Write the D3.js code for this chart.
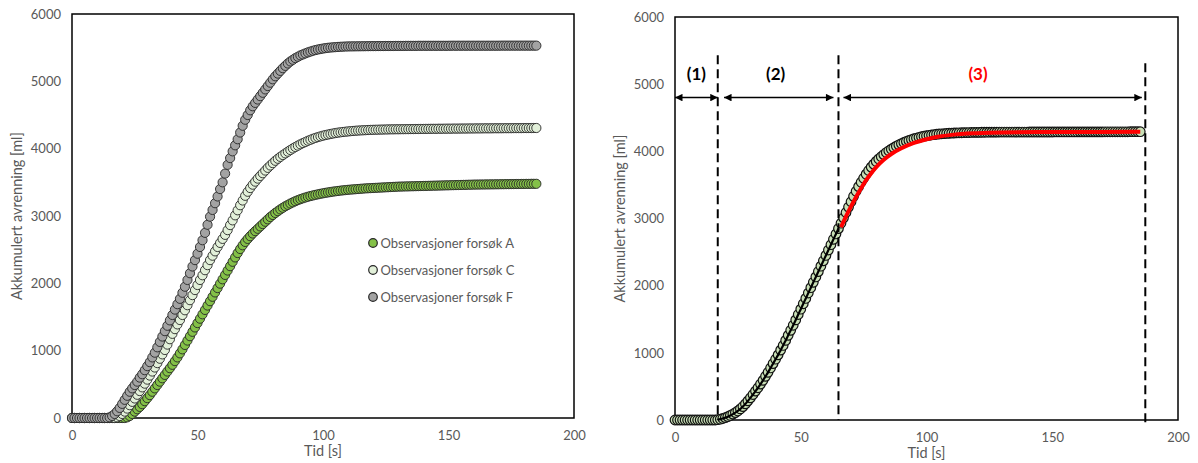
<!DOCTYPE html>
<html><head><meta charset="utf-8">
<script src="https://cdn.jsdelivr.net/npm/d3@7"></script>
<style>
body{margin:0;background:#fff}
svg{display:block}
text{font-family:Lato,"Open Sans",sans-serif}
</style>
</head><body>
<svg id="chart" width="1198" height="463"></svg>
<script>
// ---------- DATA ----------
const time = [
0,1,2,3,4,5,6,7,8,9,10,11,12,13,14,15,16,17,18,19,20,21,22,23,24,25,26,27,28,29,
30,31,32,33,34,35,36,37,38,39,40,41,42,43,44,45,46,47,48,49,50,51,52,53,54,55,56,57,58,59,
60,61,62,63,64,65,66,67,68,69,70,71,72,73,74,75,76,77,78,79,80,81,82,83,84,85,86,87,88,89,
90,91,92,93,94,95,96,97,98,99,100,101,102,103,104,105,106,107,108,109,110,111,112,113,114,115,116,117,118,119,
120,121,122,123,124,125,126,127,128,129,130,131,132,133,134,135,136,137,138,139,140,141,142,143,144,145,146,147,148,149,
150,151,152,153,154,155,156,157,158,159,160,161,162,163,164,165,166,167,168,169,170,171,172,173,174,175,176,177,178,179,
180,181,182,183,184,185];

const seriesA = [
0,0,0,0,0,0,0,0,0,0,0,0,0,0,0,0,0,0,0,0,0,0,
10,30,60,95,130,165,205,250,295,
340,390,440,490,540,590,640,690,740,790,
845,900,960,1020,1085,1150,1215,1280,1345,1410,
1475,1540,1605,1670,1735,1800,1865,1930,1995,2060,
2125,2190,2255,2320,2385,2450,2510,2565,2615,2660,
2700,2740,2775,2810,2845,2880,2915,2950,2985,3015,
3045,3072,3098,3122,3145,3165,3185,3203,3220,3236,
3250,3263,3275,3286,3296,3305,3314,3322,3330,3337,
3344,3350,3356,3362,3367,3372,3377,3381,3385,3389,
3392,3395,3398,3401,3404,3407,3410,3412,3414,3416,
3418,3420,3422,3424,3426,3428,3430,3432,3434,3436,
3437,3438,3439,3440,3441,3442,3443,3444,3445,3446,
3447,3448,3449,3450,3451,3452,3453,3454,3455,3456,
3457,3458,3459,3460,3461,3462,3463,3464,3465,3466,
3467,3467,3468,3468,3469,3469,3470,3470,3471,3471,
3472,3472,3473,3473,3474,3474,3475,3475,3476,3476,
3477,3477,3478,3478,3478];

const seriesC = [
0,0,0,0,0,0,0,0,0,0,0,0,0,0,0,0,0,0,
10,30,60,
95,140,190,240,290,345,400,455,510,570,
630,690,750,815,880,945,1010,1090,1170,1250,
1320,1390,1455,1530,1600,1675,1750,1825,1900,1975,
2050,2120,2195,2270,2345,2410,2475,2540,2600,2660,
2720,2790,2865,2935,3010,3085,3160,3230,3300,3360,
3415,3465,3510,3555,3595,3635,3675,3715,3750,3785,
3820,3850,3878,3905,3930,3955,3980,4003,4025,4045,
4065,4083,4100,4117,4132,4147,4160,4172,4183,4193,
4202,4210,4218,4225,4232,4238,4243,4248,4252,4256,
4260,4263,4266,4269,4271,4273,4275,4277,4279,4280,
4281,4282,4283,4284,4285,4286,4287,4287,4288,4288,
4289,4289,4290,4290,4291,4291,4292,4292,4293,4293,
4294,4294,4295,4295,4295,4296,4296,4296,4297,4297,
4297,4298,4298,4298,4299,4299,4299,4300,4300,4300,
4301,4301,4301,4302,4302,4302,4302,4303,4303,4303,
4303,4304,4304,4304,4304,4305,4305,4305,4305,4306,
4306,4306,4306,4307,4307];

const seriesF = [
0,0,0,0,0,0,0,0,0,0,0,0,0,0,0,
10,30,60,100,150,210,
270,330,390,440,490,540,600,650,710,770,
830,900,970,1050,1130,1210,1290,1370,1450,1530,
1610,1690,1770,1860,1950,2050,2150,2250,2345,2440,
2540,2640,2750,2870,2990,3090,3190,3290,3400,3500,
3630,3760,3860,3960,4050,4140,4240,4340,4430,4500,
4570,4630,4680,4730,4780,4830,4880,4930,4980,5030,
5075,5115,5155,5195,5230,5265,5295,5320,5345,5365,
5385,5400,5415,5430,5442,5454,5464,5473,5480,5487,
5493,5498,5502,5505,5508,5511,5513,5515,5517,5518,
5519,5519,5520,5520,5521,5521,5522,5522,5523,5523,
5523,5524,5524,5524,5525,5525,5525,5525,5526,5526,
5526,5526,5527,5527,5527,5527,5527,5528,5528,5528,
5528,5528,5528,5528,5528,5528,5528,5528,5528,5528,
5529,5529,5529,5529,5529,5529,5529,5529,5529,5529,
5529,5529,5529,5529,5529,5529,5529,5529,5529,5529,
5530,5530,5530,5530,5530,5530,5530,5530,5530,5530,
5530,5530,5530,5530,5530];

// right panel observations
const seriesR = [
0,0,0,0,0,0,0,0,0,0,0,0,0,0,0,0,0,
5,12,22,35,
50,68,88,110,135,165,200,240,285,330,
380,430,480,535,590,650,710,775,840,905,
970,1040,1110,1185,1260,1335,1410,1490,1570,1650,
1730,1810,1890,1970,2050,2130,2210,2290,2370,2450,
2530,2610,2690,2770,2850,2930,3010,3090,3170,3250,
3330,3405,3475,3540,3600,3660,3715,3765,3810,3850,
3887,3920,3952,3982,4008,4032,4055,4077,4097,4115,
4132,4148,4162,4175,4187,4198,4208,4217,4225,4232,
4238,4244,4249,4254,4258,4261,4264,4267,4269,4271,
4273,4275,4276,4277,4278,4279,4280,4281,4282,4283,
4283,4284,4284,4285,4285,4286,4286,4286,4287,4287,
4287,4287,4287,4287,4287,4287,4287,4287,4287,4287,
4288,4288,4288,4288,4288,4288,4288,4288,4288,4288,
4289,4289,4289,4289,4289,4289,4289,4289,4289,4289,
4290,4290,4290,4290,4290,4290,4290,4290,4290,4290,
4291,4291,4291,4291,4291,4291,4291,4291,4291,4291,
4292,4292,4292,4292,4292];

// fitted curve for phase (3)
const fitTime  = [66,68,70,72,74,76,78,80,83,86,90,95,100,105,110,120,130,150,185];
const fitValue = [2870,3030,3180,3320,3450,3570,3675,3765,3875,3960,4045,4125,4180,4220,4245,4270,4282,4288,4290];

// phase annotations
const phaseBounds   = [17, 65, 187];
const dashTop       = [5430, 5430, 5310];
const dashBottom    = [0, 0, -100];
const arrowFrom     = [0, 19.5, 67];
const arrowTo       = [17, 63, 185.6];
const arrowLevel    = 4800;
const phaseLabels   = ["(1)", "(2)", "(3)"];
const phaseLabelT   = [8.5, 40, 120.5];
const phaseLabelV   = 5150;
const phaseColors   = ["#000000", "#000000", "#ff0000"];
const phase2Range   = [17, 65];

const legendLabels = ["Observasjoner forsøk A", "Observasjoner forsøk C", "Observasjoner forsøk F"];
const xTicks = [0, 50, 100, 150, 200];
const yTicks = [0, 1000, 2000, 3000, 4000, 5000, 6000];
const xTitle = "Tid [s]";
const yTitle = "Akkumulert avrenning [ml]";

// ---------- DRAW ----------
const svg = d3.select("#chart");
const grey = "#595959";
const fillA = "#84c148", fillC = "#e2f0d9", fillF = "#a3a3a3", fillR = "#c9e0b6";
const strokeM = "#262626";

const defs = svg.append("defs");
defs.append("marker").attr("id","ah").attr("viewBox","0 0 10 10")
  .attr("refX",10).attr("refY",5).attr("markerUnits","userSpaceOnUse")
  .attr("markerWidth",9).attr("markerHeight",7.5).attr("orient","auto-start-reverse")
  .append("path").attr("d","M0,0L10,5L0,10Z").attr("fill","#000");

function panel(box, titleX) {
  const g = svg.append("g");
  const x = d3.scaleLinear().domain([0,200]).range([box.x0, box.x1]);
  const y = d3.scaleLinear().domain([0,6000]).range([box.y1, box.y0]);
  const xa = g.append("g").attr("transform",`translate(0,${box.y1})`)
    .call(d3.axisBottom(x).tickValues(xTicks).tickSize(0).tickPadding(13).tickFormat(d3.format("d")));
  const ya = g.append("g").attr("transform",`translate(${box.x0},0)`)
    .call(d3.axisLeft(y).tickValues(yTicks).tickSize(0).tickPadding(11).tickFormat(d3.format("d")));
  [xa, ya].forEach(a => {
    a.select(".domain").remove();
    a.selectAll("text").attr("fill",grey).style("font-size","13px").style("font-family","Lato");
  });
  g.append("text").attr("x",(box.x0+box.x1)/2).attr("y",box.y1+38)
    .attr("text-anchor","middle").attr("fill",grey).style("font-size","14.5px").text(xTitle);
  g.append("text").attr("transform",`translate(${titleX},${(box.y0+box.y1)/2}) rotate(-90)`)
    .attr("text-anchor","middle").attr("fill",grey).style("font-size","14.5px").text(yTitle);
  return {g, x, y};
}

function border(p, box) {
  p.g.append("rect").attr("x",box.x0).attr("y",box.y0)
    .attr("width",box.x1-box.x0).attr("height",box.y1-box.y0)
    .attr("fill","none").attr("stroke","#000").attr("stroke-width",1.5);
}

function dots(p, vals, fill, r, sw, stroke) {
  p.g.append("g").selectAll("circle").data(time.map((t,i)=>[t, vals[i]])).join("circle")
    .attr("cx",d=>p.x(d[0])).attr("cy",d=>p.y(d[1])).attr("r",r)
    .attr("fill",fill).attr("stroke",stroke).attr("stroke-width",sw);
}

// left panel
const boxL = {x0:72, x1:574, y0:14, y1:418};
const L = panel(boxL, 22);
border(L, boxL);
dots(L, seriesA, fillA, 4.6, 0.9, strokeM);
dots(L, seriesC, fillC, 4.6, 0.9, strokeM);
dots(L, seriesF, fillF, 4.6, 0.9, strokeM);

const legFills = [fillA, fillC, fillF];
const legY = d3.scalePoint().domain(legendLabels).range([243, 297]);
const leg = L.g.append("g");
legendLabels.forEach((lab, i) => {
  leg.append("circle").attr("cx",373).attr("cy",legY(lab)).attr("r",4.3)
    .attr("fill",legFills[i]).attr("stroke",strokeM).attr("stroke-width",1.2);
  leg.append("text").attr("x",380.5).attr("y",legY(lab)).attr("dy","0.35em")
    .attr("fill",grey).style("font-size","13px").text(lab);
});

// right panel
const boxR = {x0:675, x1:1178, y0:17, y1:420};
const R = panel(boxR, 625);
border(R, boxR);
dots(R, seriesR, fillR, 4.8, 1.2, "#111");

// black line over phase 2
const p2 = time.map((t,i)=>[t, seriesR[i]]).filter(d => d[0] >= phase2Range[0] && d[0] <= phase2Range[1]);
R.g.append("path").datum(p2)
  .attr("d", d3.line().x(d=>R.x(d[0])).y(d=>R.y(d[1])).curve(d3.curveMonotoneX))
  .attr("fill","none").attr("stroke","#000").attr("stroke-width",2.2);

// red fitted line phase 3
R.g.append("path").datum(fitTime.map((t,i)=>[t, fitValue[i]]))
  .attr("d", d3.line().x(d=>R.x(d[0])).y(d=>R.y(d[1])).curve(d3.curveMonotoneX))
  .attr("fill","none").attr("stroke","#ff0000").attr("stroke-width",4);

// dashed phase boundaries
phaseBounds.forEach((b,i) => {
  R.g.append("line").attr("x1",R.x(b)).attr("x2",R.x(b))
    .attr("y1",R.y(dashTop[i])).attr("y2",R.y(dashBottom[i]))
    .attr("stroke","#000").attr("stroke-width",2).attr("stroke-dasharray","9,5");
});
// arrows
arrowFrom.forEach((a,i) => {
  R.g.append("line").attr("x1",R.x(a)).attr("x2",R.x(arrowTo[i]))
    .attr("y1",R.y(arrowLevel)).attr("y2",R.y(arrowLevel))
    .attr("stroke","#000").attr("stroke-width",1.5)
    .attr("marker-start","url(#ah)").attr("marker-end","url(#ah)");
});
// labels
phaseLabels.forEach((lab,i) => {
  R.g.append("text").attr("x",R.x(phaseLabelT[i])).attr("y",R.y(phaseLabelV)).attr("dy","0.35em")
    .attr("text-anchor","middle").attr("fill",phaseColors[i])
    .style("font-size","17px").style("font-weight","bold").text(lab);
});
</script>
</body></html>
